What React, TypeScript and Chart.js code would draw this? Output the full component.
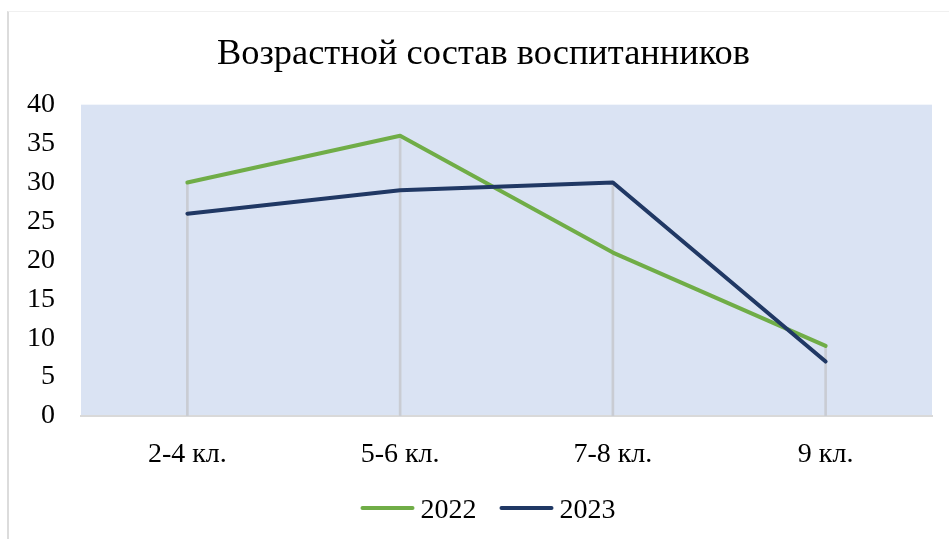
import React, { useEffect, useRef } from "react";
import { Chart, registerables } from "chart.js";

Chart.register(...registerables);

const categories = ["2-4 кл.", "5-6 кл.", "7-8 кл.", "9 кл."];
const series2022 = [30, 36, 21, 9];
const series2023 = [26, 29, 30, 7];
const seriesNames = ["2022", "2023"];
const dropLines = categories.map((_, i) => Math.max(series2022[i], series2023[i]));

const FONT = "'Liberation Serif', 'Times New Roman', serif";

const plotBg = {
  id: "plotBg",
  beforeDraw(chart: any) {
    const { ctx, chartArea } = chart;
    ctx.save();
    ctx.fillStyle = "#DAE3F3";
    ctx.fillRect(chartArea.left, chartArea.top, chartArea.right - chartArea.left, chartArea.bottom - chartArea.top);
    ctx.restore();
  },
};

const shiftTitle = {
  id: "shiftTitle",
  afterLayout(chart: any) {
    const t = chart.titleBlock;
    if (t) {
      t.left += 13;
      t.right += 13;
    }
  },
};

const lineLegend = {
  id: "lineLegend",
  afterDraw(chart: any) {
    const { ctx } = chart;
    const items = chart.data.datasets.filter((d: any) => d.label !== "drop");
    const lineW = 54;
    const gapText = 6;
    const gapItem = 23;
    ctx.save();
    ctx.font = `28px ${FONT}`;
    const widths = items.map((d: any) => ctx.measureText(d.label).width);
    const total = widths.reduce((a: number, w: number) => a + lineW + gapText + w, 0) + gapItem * (items.length - 1);
    let x = chart.width / 2 + 9 - total / 2;
    const cy = 496;
    items.forEach((d: any, i: number) => {
      ctx.strokeStyle = d.borderColor;
      ctx.lineWidth = 4;
      ctx.lineCap = "round";
      ctx.beginPath();
      ctx.moveTo(x + 2, cy);
      ctx.lineTo(x + lineW - 2, cy);
      ctx.stroke();
      x += lineW + gapText;
      ctx.fillStyle = "#000";
      ctx.textBaseline = "alphabetic";
      ctx.textAlign = "left";
      ctx.fillText(d.label, x, cy + 9.5);
      x += widths[i] + gapItem;
    });
    ctx.restore();
  },
};

export default function App() {
  const ref = useRef<HTMLCanvasElement>(null);
  useEffect(() => {
    if (!ref.current) return;
    const chart = new Chart(ref.current, {
      type: "line",
      data: {
        labels: categories,
        datasets: [
          {
            label: seriesNames[0],
            data: series2022,
            borderColor: "#70AD47",
            backgroundColor: "#70AD47",
            borderWidth: 4,
            borderCapStyle: "round",
            borderJoinStyle: "round",
            pointRadius: 0,
            tension: 0,
            order: 2,
          },
          {
            label: seriesNames[1],
            data: series2023,
            borderColor: "#203864",
            backgroundColor: "#203864",
            borderWidth: 4,
            borderCapStyle: "round",
            borderJoinStyle: "round",
            pointRadius: 0,
            tension: 0,
            order: 1,
          },
          {
            type: "bar",
            label: "drop",
            data: dropLines,
            backgroundColor: "#c9ccd3",
            barThickness: 2,
            order: 3,
          } as any,
        ],
      },
      options: {
        animation: false,
        responsive: false,
        maintainAspectRatio: false,
        layout: { padding: { left: 0, right: 17, top: 0, bottom: 61 } },
        plugins: {
          title: {
            display: true,
            text: "Возрастной состав воспитанников",
            color: "#000",
            font: { family: FONT, size: 36.4, weight: "normal" },
            padding: { top: 21, bottom: 28 },
          },
          legend: { display: false },
          tooltip: { enabled: false },
        },
        scales: {
          x: {
            offset: true,
            afterFit: (s: any) => {
              s.height = 62;
            },
            grid: { display: false, drawTicks: false },
            border: { display: true, color: "#d9d9d9", width: 2 },
            ticks: { color: "#000", font: { family: FONT, size: 28 }, padding: 22 },
          },
          y: {
            min: 0,
            max: 40,
            afterFit: (s: any) => {
              s.width = 72;
            },
            grid: { display: false, drawTicks: false },
            border: { display: false },
            ticks: { stepSize: 5, color: "#000", font: { family: FONT, size: 28 }, padding: 26 },
          },
        },
      },
      plugins: [plotBg, shiftTitle, lineLegend],
    });
    return () => chart.destroy();
  }, []);
  return (
    <div
      style={{
        position: "absolute",
        left: 7,
        top: 11,
        width: 942,
        height: 528,
        borderLeft: "2px solid #dcdcdc",
        borderTop: "1px solid #f0f0f0",
        background: "#fff",
      }}
    >
      <canvas ref={ref} width={940} height={527} style={{ display: "block" }} />
    </div>
  );
}
